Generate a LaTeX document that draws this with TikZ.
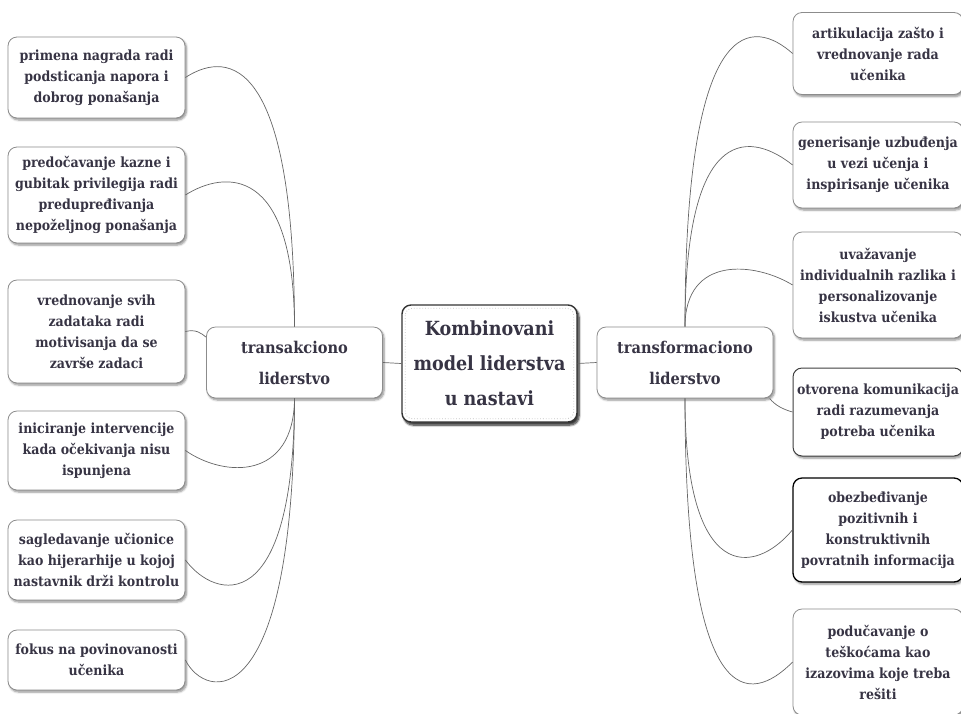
\documentclass[tikz,border=0pt]{standalone}
\usepackage{fontspec}
\setmainfont{DejaVu Serif Condensed}
\usetikzlibrary{shadows.blur}
\definecolor{txt}{RGB}{55,52,68}
\definecolor{edge}{RGB}{140,140,140}
\tikzset{
  box/.style={draw=edge, line width=0.8pt, fill=white, rounded corners=9pt, align=center,
    text=txt, font=\bfseries\fontsize{14}{21}\selectfont, inner sep=1pt,
    blur shadow={shadow xshift=1.5pt, shadow yshift=-2pt, shadow blur steps=6, shadow opacity=45}},
  mid/.style={box, font=\bfseries\fontsize{16.2}{31}\selectfont, minimum width=176pt, minimum height=71pt},
  ctr/.style={box, draw=black!80, line width=1.4pt, font=\bfseries\fontsize{19.5}{35}\selectfont,
    minimum width=175pt, minimum height=117pt,
    blur shadow={shadow xshift=2pt, shadow yshift=-3pt, shadow blur steps=7, shadow opacity=55}},
  lleaf/.style={box, minimum width=177pt},
  rleaf/.style={box, minimum width=170pt},
  conn/.style={draw=gray!80!black, line width=0.7pt}
}
\begin{document}
\begin{tikzpicture}[x=1pt,y=-1pt]
\useasboundingbox (0,0) rectangle (961,713);
% center and mid nodes
\node[ctr] (c) at (489.5,363.5) {Kombinovani\\model liderstva\\u nastavi};
\draw[dotted, line width=0.8pt, gray!45, rounded corners=7pt] ([shift={(4,4)}]c.north west) rectangle ([shift={(-4,-4)}]c.south east);
\node[mid] (tl) at (294.5,362.5) {transakciono\\liderstvo};
\node[mid] (tf) at (685,362.5) {transformaciono\\liderstvo};
% left leaves
\node[lleaf, minimum height=81pt] (L1) at (96.5,77.5) {primena nagrada radi\\podsticanja napora i\\dobrog ponašanja};
\node[lleaf, minimum height=96pt] (L2) at (96.5,195) {predočavanje kazne i\\gubitak privilegija radi\\predupređivanja\\nepoželjnog ponašanja};
\node[lleaf, minimum height=103pt] (L3) at (96.5,331.5) {vrednovanje svih\\zadataka radi\\motivisanja da se\\završe zadaci};
\node[lleaf, minimum height=79pt] (L4) at (96.5,450.5) {iniciranje intervencije\\kada očekivanja nisu\\ispunjena};
\node[lleaf, minimum height=80pt] (L5) at (96.5,560) {sagledavanje učionice\\kao hijerarhije u kojoj\\nastavnik drži kontrolu};
\node[lleaf, minimum height=60pt] (L6) at (96.5,660) {fokus na povinovanosti\\učenika};
% right leaves
\node[rleaf, minimum height=82pt] (R1) at (878,53.5) {artikulacija zašto i\\vrednovanje rada\\učenika};
\node[rleaf, minimum height=86pt] (R2) at (878,165) {generisanje uzbuđenja\\u vezi učenja i\\inspirisanje učenika};
\node[rleaf, minimum height=106pt] (R3) at (878,285) {uvažavanje\\individualnih razlika i\\personalizovanje\\iskustva učenika};
\node[rleaf, minimum height=88pt, draw=black!75, line width=1pt] (R4) at (878,412) {otvorena komunikacija\\radi razumevanja\\potreba učenika};
\node[rleaf, minimum height=104pt, draw=black, line width=1.3pt] (R5) at (878,530) {obezbeđivanje\\pozitivnih i\\konstruktivnih\\povratnih informacija};
\node[rleaf, minimum height=106pt] (R6) at (878,662) {podučavanje o\\teškoćama kao\\izazovima koje treba\\rešiti};
% connectors
\draw[conn] (tl.east) -- (c.west);
\draw[conn] (c.east) -- (tf.west);
\draw[conn] (L1.east) .. controls (220,55) and (294,40) .. (tl.north);
\draw[conn] (L2.east) .. controls (225,170) and (294,165) .. (tl.north);
\draw[conn] (L3.east) .. controls (196,329) and (201,333) .. (tl.164);
\draw[conn] (tl.south) .. controls (294,480) and (225,478) .. (L4.east);
\draw[conn] (tl.south) .. controls (294,620) and (215,600) .. (L5.east);
\draw[conn] (tl.south) .. controls (294,720) and (205,700) .. (L6.east);
\draw[conn] (R1.west) .. controls (755,20) and (685,5) .. (tf.north);
\draw[conn] (R2.west) .. controls (755,135) and (685,115) .. (tf.north);
\draw[conn] (R3.west) .. controls (755,262) and (685,255) .. (tf.north);
\draw[conn] (tf.-23) .. controls (775,405) and (782,409) .. (R4.west);
\draw[conn] (tf.south) .. controls (685,585) and (755,575) .. (R5.west);
\draw[conn] (tf.south) .. controls (685,715) and (750,705) .. (R6.west);
\end{tikzpicture}
\end{document}
